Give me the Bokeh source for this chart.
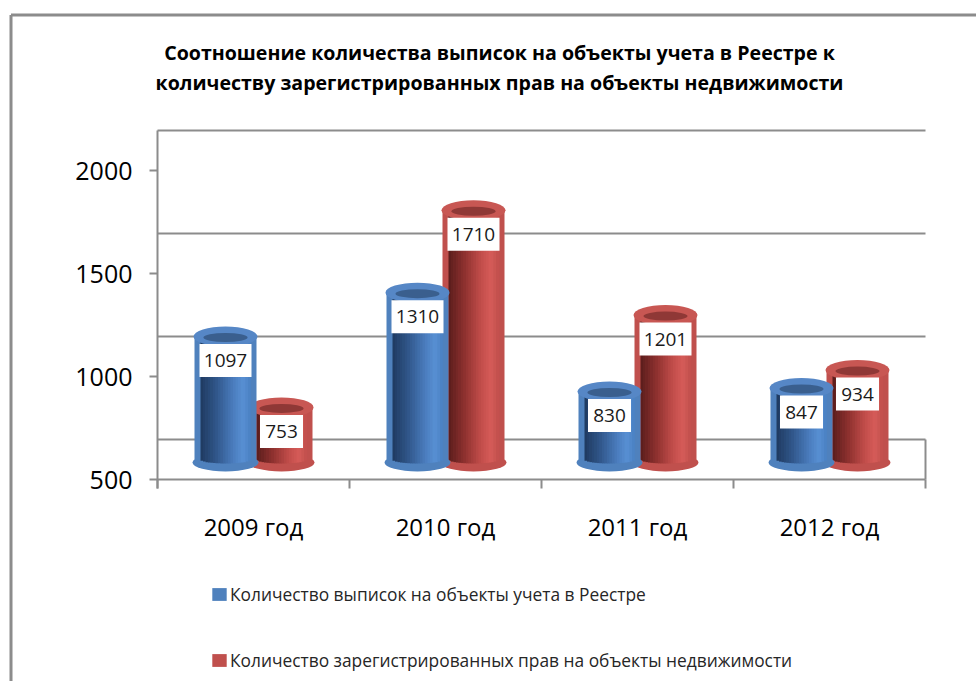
import math
from bokeh.plotting import figure
from bokeh.models import (Range1d, FixedTicker, LinearAxis, Legend, LegendItem, Label)
from bokeh.core.properties import value
from bokeh.embed import file_html
from bokeh.resources import INLINE

# ---------------- data ----------------
categories = ["2009 год", "2010 год", "2011 год", "2012 год"]
series_names = ["Количество выписок на объекты учета в Реестре",
                "Количество зарегистрированных прав на объекты недвижимости"]
extracts = [1097, 1310, 830, 847]
rights = [753, 1710, 1201, 934]
y_ticks = [500, 1000, 1500, 2000]
title_lines = ["Соотношение количества выписок на объекты учета в Реестре к",
               "количеству зарегистрированных прав на объекты недвижимости"]

# ---------------- geometry helpers (pixel layout of the chart area) ----------------
W, HGT = 976, 681
FL, FR, FT, FB = 157, 925, 130, 479      # plot-area edges in pixels
Y0 = y_ticks[0]
KY = 309.0 / (y_ticks[-1] - y_ticks[0])   # px per value unit
PXU = (FR - FL) / len(categories)         # px per category
xd = lambda px: (px - FL) / PXU
yd = lambda py: Y0 + (FB - py) / KY
dx = lambda px: px / PXU
dy = lambda px: px / KY
HALF_DEPTH = dy(20)
GRAY = "#8c8c8c"
FONT = "Open Sans"

p = figure(width=W, height=HGT, output_backend="svg", toolbar_location=None,
           title=None,
           x_range=Range1d(xd(0), xd(W)), y_range=Range1d(yd(HGT), yd(0)),
           min_border=0, x_axis_type=None, y_axis_type=None)
p.outline_line_color = None
p.background_fill_color = "white"
p.border_fill_color = "white"

n = len(categories)

# outer chart border (left and top edges visible)
p.segment(x0=[xd(10.5), xd(10.5)], x1=[xd(10.5), xd(W + 5)],
          y0=[yd(HGT + 5), yd(14.5)], y1=[yd(14.5), yd(14.5)],
          line_color=GRAY, line_width=3)

# axes (fixed inside the canvas)
yax = LinearAxis(ticker=FixedTicker(ticks=y_ticks, minor_ticks=[]),
                 fixed_location=0.0, bounds=(yd(488), yd(FT)),
                 axis_line_color=GRAY, axis_line_width=2,
                 major_tick_line_color=GRAY, major_tick_line_width=2,
                 major_tick_in=0, major_tick_out=8,
                 minor_tick_line_color=None,
                 major_label_standoff=17,
                 major_label_text_font=FONT, major_label_text_font_size="25px",
                 major_label_text_color="#000000")
p.add_layout(yax, "left")

centers = [i + 0.5 for i in range(n)]
bounds = [float(i) for i in range(n + 1)]
xax = LinearAxis(ticker=FixedTicker(ticks=centers, minor_ticks=bounds),
                 fixed_location=float(Y0), bounds=(0.0, float(n)),
                 major_label_overrides={c: lab for c, lab in zip(centers, categories)},
                 axis_line_color=GRAY, axis_line_width=2,
                 major_tick_line_color=None, major_tick_in=0, major_tick_out=0,
                 minor_tick_line_color=GRAY, minor_tick_line_width=2,
                 minor_tick_in=0, minor_tick_out=9,
                 major_label_standoff=21,
                 major_label_text_font=FONT, major_label_text_font_size="24px",
                 major_label_text_color="#000000")
p.add_layout(xax, "below")

# back wall gridlines and floor edge
grid_y = [t + 2 * HALF_DEPTH for t in y_ticks]
p.segment(x0=[0.0] * len(grid_y), x1=[float(n)] * len(grid_y), y0=grid_y, y1=grid_y,
          line_color=GRAY, line_width=2)
p.segment(x0=[float(n)], x1=[float(n)], y0=[Y0], y1=[Y0 + 2 * HALF_DEPTH],
          line_color=GRAY, line_width=2)


def hex2rgb(h):
    h = h.lstrip("#")
    return tuple(int(h[i:i + 2], 16) for i in (0, 2, 4))


def grad(stops, t):
    for (t0, c0), (t1, c1) in zip(stops[:-1], stops[1:]):
        if t0 <= t <= t1:
            f = (t - t0) / (t1 - t0)
            a, b = hex2rgb(c0), hex2rgb(c1)
            return "#%02x%02x%02x" % tuple(int(round(a[k] + (b[k] - a[k]) * f)) for k in range(3))
    return stops[-1][1]


styles = {
    "blue": dict(rim="#4f81bd", top="#5687c6", inner="#3a5f8e",
                 stops=[(0.0, "#1f3a60"), (0.3, "#2f5487"), (0.65, "#4a7cbd"),
                        (0.85, "#5890d4"), (1.0, "#4a80c2")]),
    "red": dict(rim="#c0504d", top="#c85753", inner="#8f3836",
                stops=[(0.0, "#5a1d1c"), (0.3, "#8a2f2d"), (0.65, "#c24d4a"),
                       (0.85, "#d65c59"), (1.0, "#c04f4c")]),
}


def cylinders(vals, off_px, st):
    cx = [i + 0.5 + dx(off_px) for i in range(len(vals))]
    tops = [v + HALF_DEPTH for v in vals]
    base = Y0 + HALF_DEPTH
    m = len(vals)
    p.ellipse(x=cx, y=[base - dy(3)] * m, width=dx(66), height=dy(18),
              fill_color=st["rim"], line_color=None)
    rim = p.quad(left=[c - dx(31) for c in cx], right=[c + dx(31) for c in cx],
                 bottom=[base] * m, top=tops, fill_color=st["rim"], line_color=None)
    N = 20
    L, R, B, T, C = [], [], [], [], []
    for j in range(N):
        t0, t1 = j / N, (j + 1) / N
        tm = (t0 + t1) / 2
        oL, oR, oM = -25 + 50 * t0, -25 + 50 * t1 + 0.4, -25 + 50 * tm
        arc = 4 * math.sqrt(max(0.0, 1 - (oM / 25) ** 2))
        col = grad(st["stops"], tm)
        for c, tp in zip(cx, tops):
            L.append(c + dx(oL)); R.append(c + dx(oR))
            B.append(base - dy(arc)); T.append(tp); C.append(col)
    p.quad(left=L, right=R, bottom=B, top=T, fill_color=C, line_color=None)
    p.ellipse(x=cx, y=tops, width=dx(64), height=dy(20), fill_color=st["top"], line_color=None)
    p.ellipse(x=cx, y=[t - dy(1) for t in tops], width=dx(44), height=dy(9),
              fill_color=st["inner"], line_color=None)
    return rim, cx, tops


red_rim, red_x, red_top = cylinders(rights, 28, styles["red"])
blue_rim, blue_x, blue_top = cylinders(extracts, -28, styles["blue"])

# value labels
for vals, cx, tops in [(rights, red_x, red_top), (extracts, blue_x, blue_top)]:
    ys = [t - dy(24) for t in tops]
    p.rect(x=cx, y=ys, width=[dx(16 + 9 * len(str(v))) for v in vals], height=dy(33),
           fill_color="white", line_color=None)
    p.text(x=cx, y=ys, text=[str(v) for v in vals], text_align="center",
           text_baseline="middle", text_font=value(FONT), text_font_size="19px",
           text_color="#1a1a1a")

# title
for line, py in zip(title_lines, [52, 82]):
    p.add_layout(Label(x=xd(499), y=yd(py), text=line, text_align="center",
                       text_baseline="middle", text_font=FONT, text_font_size="19.6px",
                       text_font_style="bold", text_color="#000000"))

# legends (one per series, positioned from the canvas bottom-left)
for name, rend, ly in [(series_names[0], blue_rim, 75), (series_names[1], red_rim, 9)]:
    leg = Legend(items=[LegendItem(label=name, renderers=[rend])],
                 location=(210, ly), orientation="vertical",
                 glyph_width=18, glyph_height=16, label_height=16, label_standoff=2,
                 padding=0, margin=0, border_line_color=None, background_fill_alpha=0,
                 label_text_font=FONT, label_text_font_size="17.35px",
                 label_text_color="#262626")
    p.add_layout(leg)

open("out.html", "w").write(file_html(p, INLINE))
